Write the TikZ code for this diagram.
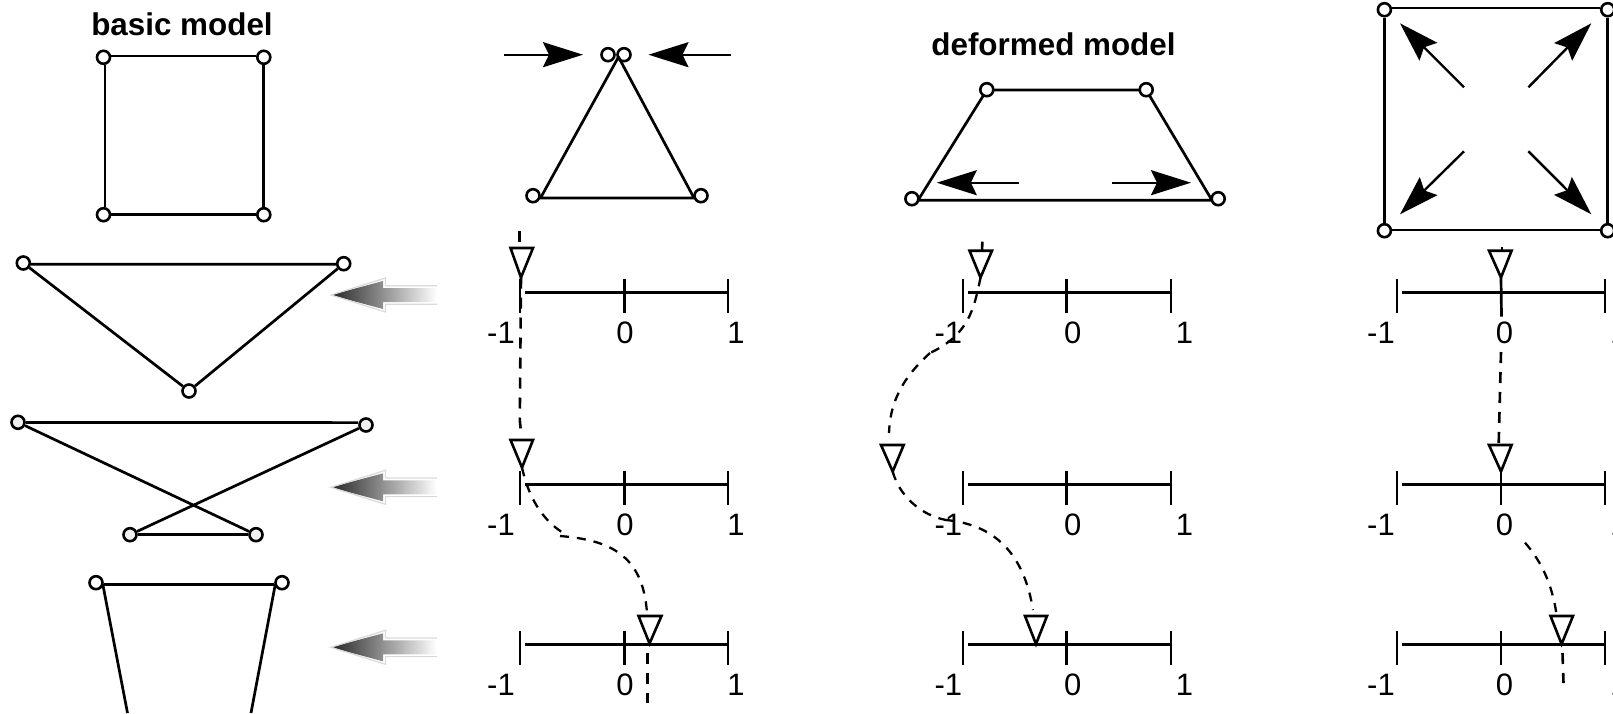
\documentclass[tikz,border=0pt]{standalone}
\usepackage{fontspec}
\setmainfont{Liberation Sans}
\usetikzlibrary{arrows.meta}
\tikzset{
  x=0.5pt,y=-0.5pt,
  vertex/.style={circle,draw=black,fill=white,line width=1.3pt,minimum size=6.5pt,inner sep=0pt},
  vertexg/.style={vertex,fill=black!6},
  edge/.style={draw=black,line width=1.35pt},
  axisline/.style={draw=black,line width=1.35pt},
  tickline/.style={draw=black,line width=1.2pt},
  force/.style={draw=black,line width=1.2pt,-{Stealth[length=20pt,width=12.5pt,inset=3pt]}},
  marker tri/.style={draw=black,line width=1.3pt,line join=miter},
  dashstraight/.style={draw=black,line width=1.3pt,dash pattern=on 5.5pt off 4.5pt},
  dashcurve/.style={draw=black,line width=1.15pt,dash pattern=on 4.5pt off 4pt},
  numlabel/.style={inner sep=0pt,font=\fontsize{15.5pt}{17pt}\selectfont},
  titlelabel/.style={inner sep=0pt,font=\fontsize{15.7pt}{18pt}\selectfont\bfseries},
}
\newcommand{\numline}[9]{%
  \coordinate (#1-s) at (#6,#2);
  \coordinate (#1-am) at (#3,{#2-13.2});
  \coordinate (#1-ap) at (#3,{#2+20.5});
  \coordinate (#1-bm) at (#4,{#2-13.2});
  \coordinate (#1-bp) at (#4,{#2+20.5});
  \coordinate (#1-cm) at (#5,{#2-13.2});
  \coordinate (#1-cp) at (#5,{#2+20.5});
  \coordinate (#1-e) at (#5,#2);
  \draw[axisline] (#1-s) -- (#1-e);
  \draw[tickline] (#1-am) -- (#1-ap);
  \draw[tickline] (#1-bm) -- (#1-bp);
  \draw[tickline] (#1-cm) -- (#1-cp);
  \node[numlabel] (#1-la) at (#7,{#2+40.3}) {-1};
  \node[numlabel] (#1-lb) at (#8,{#2+40.3}) {0};
  \node[numlabel] (#1-lc) at (#9,{#2+40.3}) {1};
}
\newcommand{\markertri}[6]{% name, xl, xr, top, tipx, tipy
  \coordinate (#1-l) at (#2,#4);
  \coordinate (#1-r) at (#3,#4);
  \coordinate (#1-tip) at (#5,#6);
  \draw[marker tri] (#1-l) -- (#1-r) -- (#1-tip) -- cycle;
}
\newcommand{\bigarrow}[1]{%
  \path[left color=black!85,right color=white]
    (331,#1) -- (383,{#1-14}) -- (383,{#1-7}) -- (437,{#1-7}) -- (437,{#1+7}) -- (383,{#1+7}) -- (383,{#1+14}) -- cycle;
  \draw[black!15,line width=0.6pt]
    (437,{#1-9.3}) -- (385.5,{#1-9.3}) -- (385.5,{#1-17}) -- (331,#1) -- (385.5,{#1+17}) -- (385.5,{#1+9.3}) -- (437,{#1+9.3});
}
\begin{document}
\begin{tikzpicture}
\useasboundingbox (0,0) rectangle (1613,713);
\clip (0,0) rectangle (1613,713);

% titles
\node[titlelabel] (t1) at (182,24) {basic model};
\node[titlelabel] (t2) at (1053.5,44) {deformed model};

% basic square
\node[vertex] (sA) at (103.5,57.3) {};
\node[vertex] (sB) at (263.8,57.3) {};
\node[vertex] (sC) at (103.5,214.7) {};
\node[vertex] (sD) at (263.8,214.7) {};
\draw[edge] ([yshift=0.6pt]sA.east) -- ([yshift=0.6pt]sB.west);
\draw[edge] ([yshift=0.2pt]sC.east) -- ([yshift=0.2pt]sD.west);
\draw[edge] ([xshift=0.7pt]sA.south) -- ([xshift=0.7pt]sC.north);
\draw[edge] (sB.south) -- (sD.north);

% pinched triangle
\node[vertex] (pA) at (608,54.7) {};
\node[vertex] (pB) at (624,54.7) {};
\coordinate (pTop) at (618.5,57);
\coordinate (pL) at (540.5,198);
\coordinate (pR) at (694,198);
\draw[edge,line join=round] (pL) -- (pTop) -- (pR) -- cycle;
\node[vertex] (pC) at (533,195.7) {};
\node[vertex] (pD) at (701,195.7) {};
\coordinate (fa1) at (504,54.7);
\coordinate (fa2) at (583,54.7);
\coordinate (fb1) at (730.5,54.7);
\coordinate (fb2) at (648.5,54.7);
\draw[force] (fa1) -- (fa2);
\draw[force] (fb1) -- (fb2);

% trapezoid
\coordinate (qP) at (986.8,90);
\coordinate (qQ) at (1146.2,90);
\coordinate (qR) at (1212,200.3);
\coordinate (qS) at (918,200.3);
\draw[edge,line join=round] (qP) -- (qQ) -- (qR) -- (qS) -- cycle;
\node[vertex] (qA) at (986.8,89.7) {};
\node[vertex] (qB) at (1146.2,89.7) {};
\node[vertex] (qC) at (911.9,198.7) {};
\node[vertex] (qD) at (1218.2,198.7) {};
\coordinate (fc1) at (1018.5,182.7);
\coordinate (fc2) at (936.8,182.7);
\coordinate (fd1) at (1112,182.7);
\coordinate (fd2) at (1191,182.7);
\draw[force] (fc1) -- (fc2);
\draw[force] (fd1) -- (fd2);

% big square
\node[vertex] (bA) at (1384.4,9.7) {};
\node[vertex] (bB) at (1607.7,9.7) {};
\node[vertex] (bC) at (1384.4,230.7) {};
\node[vertex] (bD) at (1607.7,230.7) {};
\draw[edge] ([yshift=0.8pt]bA.east) -- ([yshift=0.8pt]bB.west);
\draw[edge] ([yshift=0.4pt]bC.east) -- ([yshift=0.4pt]bD.west);
\draw[edge] (bA.south) -- (bC.north);
\draw[edge] (bB.south) -- (bD.north);
\coordinate (g1t) at (1464,87.3);   \coordinate (g1h) at (1400,23.3);
\coordinate (g2t) at (1528.4,87.3); \coordinate (g2h) at (1591.3,23.3);
\coordinate (g3t) at (1464,151.3);  \coordinate (g3h) at (1400,214.3);
\coordinate (g4t) at (1528.4,151.3);\coordinate (g4h) at (1591.3,214.3);
\draw[force] (g1t) -- (g1h);
\draw[force] (g2t) -- (g2h);
\draw[force] (g3t) -- (g3h);
\draw[force] (g4t) -- (g4h);

% inverted triangle
\node[vertex] (iA) at (23.3,263) {};
\node[vertex] (iB) at (343.7,263.7) {};
\node[vertex] (iC) at (189,391) {};
\draw[edge] ([yshift=-0.6pt]iA.east) -- ([yshift=-0.3pt]iB.west);
\draw[edge] (iA) -- (iC);
\draw[edge] (iB) -- (iC);

% crossed shape
\node[vertexg] (xA) at (18,422.3) {};
\node[vertexg] (xB) at (366,425) {};
\node[vertexg] (xC) at (130,534.7) {};
\node[vertexg] (xD) at (256,534.7) {};
\draw[edge] ([yshift=-0.1pt]xA.east) -- ([yshift=1.2pt]xB.west);
\draw[edge] (xA) -- (xD);
\draw[edge] (xB) -- (xC);
\draw[edge] (xC) -- (xD);

% cut-off trapezoid
\node[vertex] (zA) at (96,582.7) {};
\node[vertex] (zB) at (282,582.7) {};
\coordinate (zC) at (127.5,713);
\coordinate (zD) at (251,713);
\coordinate (zP) at (102.8,584.3);
\coordinate (zQ) at (275.3,584.3);
\draw[edge] ([yshift=-0.8pt]zA.east) -- ([yshift=-0.8pt]zB.west);
\draw[edge] (zP) -- (zC);
\draw[edge] (zQ) -- (zD);

% shaded arrows
\bigarrow{295}
\bigarrow{487.3}
\bigarrow{647.3}

% number lines
\numline{a1}{292.3}{520}{624.3}{728}{525}{501}{625}{736}
\numline{a2}{484.3}{520}{624.3}{728}{525}{501}{625}{736}
\numline{a3}{644.3}{520}{624.3}{728}{525}{501}{625}{736}
\numline{b1}{292.3}{962.8}{1066.5}{1170.7}{968}{948.4}{1072.7}{1184.6}
\numline{b2}{484.3}{962.8}{1066.5}{1170.7}{968}{948.4}{1072.7}{1184.6}
\numline{b3}{644.3}{962.8}{1066.5}{1170.7}{968}{948.4}{1072.7}{1184.6}
\numline{c1}{292.3}{1396.9}{1501}{1605}{1402}{1381}{1504.4}{1619}
\numline{c2}{484.3}{1396.9}{1501}{1605}{1402}{1381}{1504.4}{1619}
\numline{c3}{644.3}{1396.9}{1501}{1605}{1402}{1381}{1504.4}{1619}

% markers
\markertri{ma1}{510.5}{533}{248}{521}{277.5}
\markertri{ma2}{510.5}{533}{440}{522}{467.5}
\markertri{ma3}{638.5}{661.5}{616}{649.5}{643.5}
\markertri{mb1}{969.5}{992}{250.7}{980.5}{277.5}
\markertri{mb2}{881}{903.7}{445}{892.7}{471.5}
\markertri{mb3}{1025}{1047}{616}{1036}{644}
\markertri{mc1}{1489}{1511.6}{250.7}{1501}{277.5}
\markertri{mc2}{1489}{1511.6}{445}{1501}{471.5}
\markertri{mc3}{1550.5}{1573}{616}{1561.6}{644}

% traces, column 1
\coordinate (ta0) at (519.6,231);
\coordinate (ta1) at (519.6,248);
\coordinate (ta2) at (521,432.7);
\coordinate (ta3) at (647,613);
\coordinate (ta4) at (647.5,653);
\coordinate (ta5) at (647.5,703);
\draw[dashstraight] (ta0) -- (ta1);
\draw[dashstraight] (ma1-tip) -- (519.8,420) -- (ta2);
\draw[dashcurve] (ma2-tip) .. controls (528,495) and (541,520) .. (565,534);
\draw[dashcurve] (560,536) .. controls (610,540) and (643,555) .. (ta3);
\draw[dashstraight] (ta4) -- (ta5);

% traces, column 2
\coordinate (tb0) at (982.4,241.7);
\coordinate (tb00) at (982,250.7);
\coordinate (tb1) at (889,433);
\coordinate (tb2) at (1033,610);
\draw[dashstraight] (tb0) -- (tb00);
\draw[dashcurve] (mb1-tip) .. controls (974,310) and (968,335) .. (930,353);
\draw[dashcurve] (930,353) .. controls (900,380) and (890,405) .. (tb1);
\draw[dashcurve] (mb2-tip) .. controls (899,495) and (920,515) .. (946,520);
\draw[dashcurve] (946,520) .. controls (1000,525) and (1025,560) .. (tb2);

% traces, column 3
\coordinate (tc0) at (1502,247);
\coordinate (tc00) at (1502,251);
\coordinate (tc1) at (1501.5,316.7);
\coordinate (tc2) at (1501,352);
\coordinate (tc3) at (1498.7,443);
\coordinate (tc4) at (1525,542.7);
\coordinate (tc5) at (1556.3,613);
\coordinate (tc6) at (1562.5,653);
\coordinate (tc7) at (1563.5,683);
\draw[dashstraight] (tc0) -- (tc00);
\draw[edge] (mc1-tip) -- (tc1);
\draw[dashstraight] (tc2) -- (tc3);
\draw[dashcurve] (tc4) .. controls (1542,562) and (1552,585) .. (tc5);
\draw[dashstraight] (tc6) -- (tc7);
\end{tikzpicture}
\end{document}
